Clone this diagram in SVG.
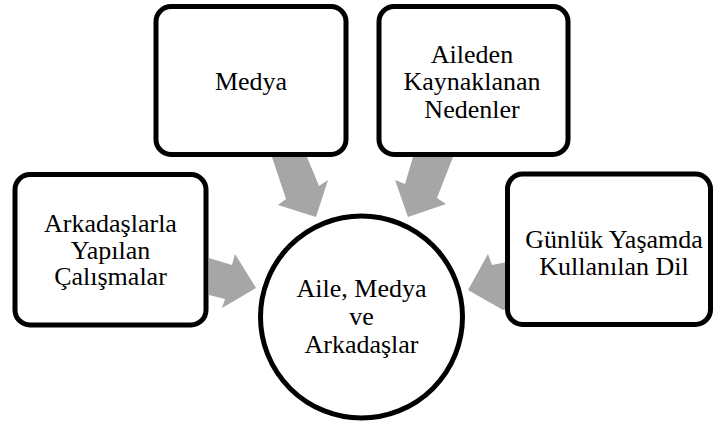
<svg xmlns="http://www.w3.org/2000/svg" width="713" height="423" viewBox="0 0 713 423">
<style>
.box{fill:#fff;stroke:#000;stroke-width:5}
.arr{fill:#a6a6a6;stroke:none}
.t{font-family:'Liberation Serif','Times New Roman',serif;font-size:26px;fill:#000;text-anchor:middle}
</style>
<rect width="713" height="423" fill="#fff"/>
<g id="connectors">
<polygon class="arr" points="209,258 232,265 235,254 256,288 222,308 225,299 209,295"/>
<polygon class="arr" points="272,157 307,157 319,186 328,180 316,217 278,205 286,199"/>
<polygon class="arr" points="413,157 453,157 437,198 446,204 408,217 395,180 405,184"/>
<polygon class="arr" points="507,262 492,265 488,254 468,290 503,310 507,309"/>
</g>
<g id="node-arkadaslarla">
<rect class="box" x="15" y="174.5" width="191" height="150.5" rx="15"/>
<text class="t" x="110.5" y="232">Arkadaşlarla</text>
<text class="t" x="110.5" y="259">Yapılan</text>
<text class="t" x="110.5" y="285">Çalışmalar</text>
</g>
<g id="node-medya">
<rect class="box" x="156" y="6.5" width="190" height="148" rx="15"/>
<text class="t" x="251" y="90">Medya</text>
</g>
<g id="node-aileden">
<rect class="box" x="379" y="6.5" width="189" height="148" rx="15"/>
<text class="t" x="472" y="63">Aileden</text>
<text class="t" x="472" y="90">Kaynaklanan</text>
<text class="t" x="472" y="118">Nedenler</text>
</g>
<g id="node-gunluk">
<rect class="box" x="507.5" y="174" width="203" height="150.5" rx="15"/>
<text class="t" x="614" y="248">Günlük Yaşamda</text>
<text class="t" x="614" y="275">Kullanılan Dil</text>
</g>
<g id="node-center">
<circle class="box" cx="361.5" cy="317" r="101" stroke-width="4.5"/>
<text class="t" x="361.5" y="297">Aile, Medya</text>
<text class="t" x="361.5" y="325">ve</text>
<text class="t" x="361.5" y="353">Arkadaşlar</text>
</g>
</svg>
